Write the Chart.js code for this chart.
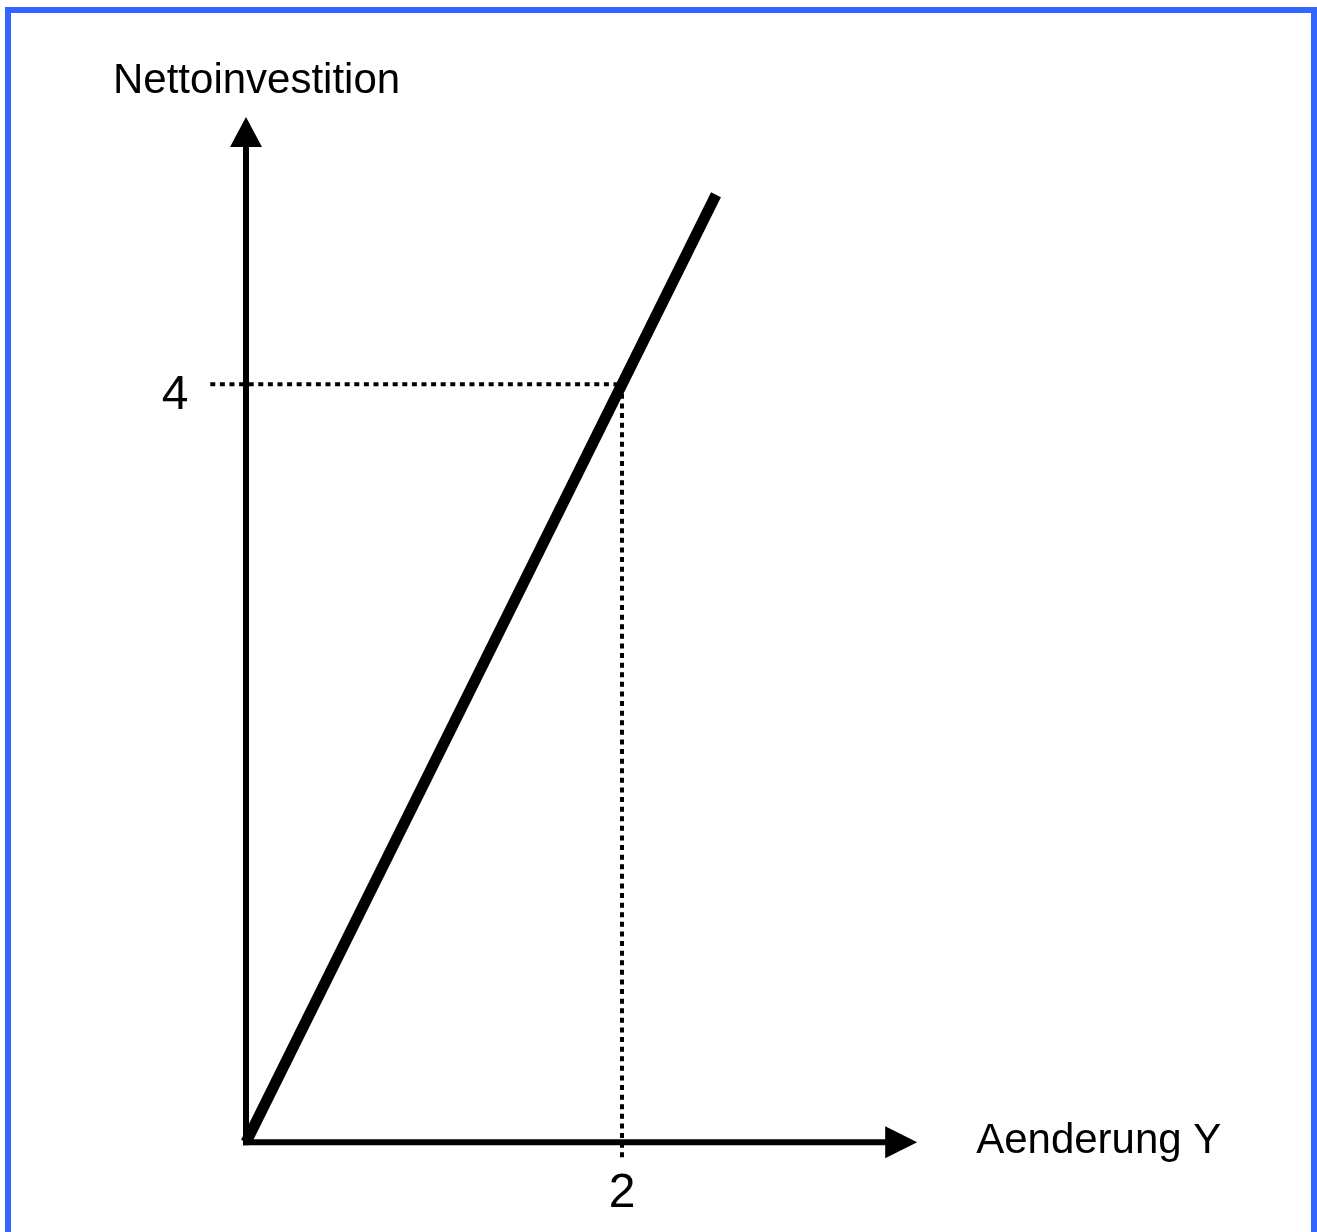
<!DOCTYPE html>
<html>
<head>
<meta charset="utf-8">
<script src="https://cdn.jsdelivr.net/npm/chart.js@4.4.1/dist/chart.umd.min.js"></script>
<style>
    html, body { margin: 0; padding: 0; background: #ffffff; overflow: hidden; }
    canvas { display: block; }
</style>
</head>
<body>
<canvas id="chart" width="1317" height="1232"></canvas>
<script>
// Daten
const lineX = [0, 2.5];
const lineY = [0, 5];
const markX = 2;
const markY = 4;
const tickLabelsX = ['2'];
const tickLabelsY = ['4'];
const axisTitleX = 'Aenderung Y';
const axisTitleY = 'Nettoinvestition';
const axisEndX = 3.57;
const axisEndY = 5.41;

const FONT = '"Liberation Sans", Arial, sans-serif';

// Achsen, Pfeile, Beschriftungen und Rahmen zeichnen
const axesPlugin = {
    id: 'axesPlugin',
    beforeDatasetsDraw(chart) {
        const ctx = chart.ctx;
        const sx = chart.scales.x;
        const sy = chart.scales.y;
        const x0 = sx.getPixelForValue(0);
        const y0 = sy.getPixelForValue(0);
        const xEnd = sx.getPixelForValue(axisEndX);
        const yEnd = sy.getPixelForValue(axisEndY);

        ctx.save();
        ctx.strokeStyle = '#000';
        ctx.fillStyle = '#000';
        ctx.lineWidth = 6;
        ctx.lineCap = 'butt';

        // y-Achse
        ctx.beginPath();
        ctx.moveTo(x0, y0 + 3);
        ctx.lineTo(x0, yEnd + 28);
        ctx.stroke();
        ctx.beginPath();
        ctx.moveTo(x0, yEnd);
        ctx.lineTo(x0 - 16, yEnd + 30);
        ctx.lineTo(x0 + 16, yEnd + 30);
        ctx.closePath();
        ctx.fill();

        // x-Achse
        ctx.beginPath();
        ctx.moveTo(x0 - 3, y0);
        ctx.lineTo(xEnd - 30, y0);
        ctx.stroke();
        ctx.beginPath();
        ctx.moveTo(xEnd, y0);
        ctx.lineTo(xEnd - 32, y0 - 16);
        ctx.lineTo(xEnd - 32, y0 + 16);
        ctx.closePath();
        ctx.fill();
        ctx.restore();
    },
    afterDraw(chart) {
        const ctx = chart.ctx;
        const sx = chart.scales.x;
        const sy = chart.scales.y;
        const x0 = sx.getPixelForValue(0);
        const y0 = sy.getPixelForValue(0);

        ctx.save();
        ctx.fillStyle = '#000';

        // Achsentitel
        ctx.font = '42px ' + FONT;
        ctx.textAlign = 'left';
        ctx.textBaseline = 'alphabetic';
        ctx.fillText(axisTitleY, x0 - 133, 93);
        ctx.fillText(axisTitleX, sx.getPixelForValue(axisEndX) + 59, y0 + 11);

        // Tick-Beschriftungen
        ctx.font = '48px ' + FONT;
        ctx.textAlign = 'center';
        ctx.fillText(tickLabelsY[0], x0 - 71, sy.getPixelForValue(markY) + 25);
        ctx.fillText(tickLabelsX[0], sx.getPixelForValue(markX), y0 + 65);

        // Rahmen
        ctx.strokeStyle = '#3366ff';
        ctx.lineWidth = 6;
        ctx.strokeRect(8, 10, 1306, 1260);
        ctx.restore();
    }
};

const ctx = document.getElementById('chart').getContext('2d');
new Chart(ctx, {
    type: 'scatter',
    data: {
        datasets: [
            {
                data: [{ x: -0.19, y: markY }, { x: markX, y: markY }],
                showLine: true,
                borderColor: '#000',
                borderWidth: 4,
                borderDash: [5, 4.6],
                borderCapStyle: 'butt',
                pointRadius: 0,
                clip: false,
                order: 2
            },
            {
                data: [{ x: markX, y: markY }, { x: markX, y: -0.08 }],
                showLine: true,
                borderColor: '#000',
                borderWidth: 4,
                borderDash: [5, 4.6],
                borderCapStyle: 'butt',
                pointRadius: 0,
                clip: false,
                order: 2
            },
            {
                data: lineX.map((v, i) => ({ x: v, y: lineY[i] })),
                showLine: true,
                borderColor: '#000',
                borderWidth: 11,
                borderCapStyle: 'butt',
                pointRadius: 0,
                clip: false,
                order: 1
            }
        ]
    },
    options: {
        responsive: false,
        animation: false,
        events: [],
        layout: {
            padding: { left: 58, right: 319, top: 100, bottom: 14 }
        },
        plugins: {
            legend: { display: false },
            tooltip: { enabled: false },
            title: { display: false }
        },
        scales: {
            x: { type: 'linear', min: -1, max: 4, display: false },
            y: { type: 'linear', min: -0.4, max: 5.5, display: false }
        }
    },
    plugins: [axesPlugin]
});
</script>
</body>
</html>
